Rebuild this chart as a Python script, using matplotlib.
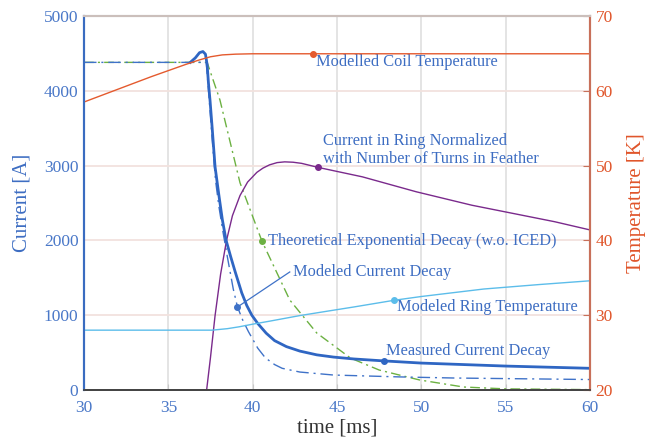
"""Current decay and temperatures during the quench event."""

import numpy as np
import matplotlib
matplotlib.use("Agg")
import matplotlib.pyplot as plt

plt.rcParams["font.family"] = ["Liberation Serif", "DejaVu Serif"]

# --- data --------------------------------------------------------------
measured_t = [36.3, 36.6, 36.85, 37.05, 37.2, 37.3, 37.38, 37.47, 37.6, 37.77,
              38.0, 38.2, 38.42, 38.7, 38.95, 39.35, 39.65, 39.95, 40.3, 40.8,
              41.3, 42.0, 42.8, 43.8, 44.8, 46.0, 47.7, 50.0, 55.0, 60.0]
measured_i = [4380, 4440, 4510, 4525, 4490, 4350, 4100, 3877, 3500, 2985,
              2600, 2280, 2005, 1780, 1590, 1300, 1130, 1000, 890, 760,
              660, 580, 520, 470, 440, 415, 390, 360, 320, 290]

modeled_t = [30.0, 37.25, 37.4, 37.6, 37.8, 38.0, 38.25, 38.5, 38.85, 39.1, 39.4,
             39.75, 40.3, 40.75, 41.3, 41.75, 42.8, 44.8, 48.7, 52.0, 56.0, 60.0]
modeled_i = [4380, 4380, 3950, 3350, 2800, 2450, 2100, 1780, 1350, 1110, 940,
             780, 560, 430, 340, 290, 240, 200, 175, 160, 150, 140]

theory_t = [30.0, 37.3, 38.06, 39.25, 40.55, 42.2, 43.8, 45.8, 47.5, 48.7, 49.9,
            52.5, 55.0, 60.0]
theory_i = [4380, 4380, 3877, 2770, 1990, 1203, 762, 427, 267, 200, 134,
            40, 15, 5]

ring_t = [37.27, 37.5, 37.77, 38.1, 38.45, 38.8, 39.25, 39.7, 40.25, 40.6, 41.0,
          41.45, 41.9, 42.4, 42.9, 43.9, 46.5, 49.7, 53.0, 57.9, 60.0]
ring_i = [0, 437, 993, 1550, 2000, 2330, 2600, 2780, 2910, 2965, 3010,
          3040, 3050, 3045, 3030, 2975, 2850, 2650, 2470, 2250, 2140]

coil_t = [30.0, 32.0, 34.0, 36.0, 36.8, 37.5, 38.2, 39.0, 40.0, 45.0, 60.0]
coil_temp = [58.5, 60.2, 61.9, 63.5, 64.1, 64.55, 64.8, 64.9, 64.95, 64.95, 64.95]

ring_temp_t = [30.0, 37.6, 38.5, 39.2, 40.0, 41.0, 42.8, 44.6, 46.0, 48.4, 50.0,
               53.7, 57.0, 60.0]
ring_temp = [28.0, 28.0, 28.2, 28.45, 28.8, 29.2, 29.95, 30.6, 31.1, 32.0, 32.5,
             33.5, 34.1, 34.6]

x_ticks = [30, 35, 40, 45, 50, 55, 60]
current_ticks = [0, 1000, 2000, 3000, 4000, 5000]
temp_ticks = [20, 30, 40, 50, 60, 70]

# --- colours ------------------------------------------------------------
TEXT_BLUE = "#3d6dc2"
TICK_BLUE = "#4a78c8"
TEMP_RED = "#e0552a"
MEAS_BLUE = "#2f66c3"
MODEL_BLUE = "#3f72c8"
GREEN = "#6cb142"
PURPLE = "#7a2a8c"
COIL_RED = "#e45a2e"
LIGHT_BLUE = "#5cbdea"

fig = plt.figure(figsize=(6.47, 4.48), dpi=100)
axis = fig.add_axes([84 / 647, 1 - 390 / 448, (590 - 84) / 647, (390 - 16) / 448])
axis_t = axis.twinx()

axis.set_xlim(30, 60)
axis.set_ylim(0, 5000)
axis_t.set_ylim(20, 70)

# grid
for xv in x_ticks[1:-1]:
    axis.axvline(xv, color="#e2e2e2", linewidth=1.3, zorder=0)
for yv in current_ticks[1:-1]:
    axis.axhline(yv, color="#f2e2de", linewidth=1.3, zorder=0)

# current curves
axis.plot(theory_t, theory_i, color=GREEN, linewidth=1.0,
          linestyle=(0, (7, 3, 1.5, 3)), zorder=2)
axis.plot(modeled_t, modeled_i, color=MODEL_BLUE, linewidth=1.0,
          linestyle=(0, (9, 3.5, 1.5, 3.5)), zorder=2)
axis.plot(ring_t, ring_i, color=PURPLE, linewidth=1.0, zorder=2)
axis.plot(measured_t, measured_i, color=MEAS_BLUE, linewidth=2.0, zorder=3)

# temperature curves
axis_t.plot(coil_t, coil_temp, color=COIL_RED, linewidth=1.0)
axis_t.plot(ring_temp_t, ring_temp, color=LIGHT_BLUE, linewidth=1.0)

# callout dots, taken from the series themselves
label_style = dict(color=TEXT_BLUE, fontsize=11.8)

t_coil = 43.6
axis_t.plot(t_coil, np.interp(t_coil, coil_t, coil_temp), "o", color=COIL_RED, markersize=4)
axis.text(43.75, 4385, "Modelled Coil Temperature", va="center", ha="left", **label_style)

t_ring = 43.9
axis.plot(t_ring, np.interp(t_ring, ring_t, ring_i), "o", color=PURPLE, markersize=4, zorder=4)
axis.text(44.17, 3209, "Current in Ring Normalized\nwith Number of Turns in Feather",
          va="center", ha="left", linespacing=1.2, **label_style)

t_theory = 40.55
axis.plot(t_theory, np.interp(t_theory, theory_t, theory_i), "o", color=GREEN, markersize=4, zorder=4)
axis.text(40.9, 1990, "Theoretical Exponential Decay (w.o. ICED)", va="center", ha="left",
          **label_style)

t_model = 39.1
i_model = np.interp(t_model, modeled_t, modeled_i)
axis.plot(t_model, i_model, "o", color=MODEL_BLUE, markersize=4, zorder=4)
axis.plot([t_model, 42.2], [i_model, 1578], color=MODEL_BLUE, linewidth=0.9, zorder=4)
axis.text(42.39, 1578, "Modeled Current Decay", va="center", ha="left", **label_style)

t_rtemp = 48.4
axis_t.plot(t_rtemp, np.interp(t_rtemp, ring_temp_t, ring_temp), "o", color=LIGHT_BLUE, markersize=4)
axis.text(48.55, 1110, "Modeled Ring Temperature", va="center", ha="left", **label_style)

t_meas = 47.8
axis.plot(t_meas, np.interp(t_meas, measured_t, measured_i), "o", color=MEAS_BLUE,
          markersize=4, zorder=4)
axis.text(47.9, 521, "Measured Current Decay", va="center", ha="left", **label_style)

# axes styling
axis.set_xticks(x_ticks)
axis.set_yticks(current_ticks)
axis_t.set_yticks(temp_ticks)

axis.tick_params(axis="x", direction="in", length=4, color="#c8c8c8", labelcolor=TICK_BLUE,
                 labelsize=12.5, pad=7)
axis.tick_params(axis="y", length=0, labelcolor=TICK_BLUE, labelsize=12.5, pad=4)
axis_t.tick_params(axis="y", direction="in", length=5, color="#c8705a", labelcolor=TEMP_RED,
                   labelsize=12.5, pad=4)

axis.set_xlabel("time [ms]", fontsize=15, color="#333333", labelpad=2)
axis.set_ylabel("Current [A]", fontsize=15, color=TEXT_BLUE, labelpad=9)
axis_t.set_ylabel("Temperature [K]", fontsize=15, color=TEMP_RED, labelpad=10)

for ax_ in (axis, axis_t):
    ax_.spines["left"].set_color("#3a6cc0")
    ax_.spines["left"].set_linewidth(1.5)
    ax_.spines["right"].set_color("#c8705a")
    ax_.spines["right"].set_linewidth(1.5)
    ax_.spines["top"].set_color("#cbbfbb")
    ax_.spines["top"].set_linewidth(1.5)
    ax_.spines["bottom"].set_color("#444444")
    ax_.spines["bottom"].set_linewidth(1.3)

fig.savefig("out.png", dpi=100)
